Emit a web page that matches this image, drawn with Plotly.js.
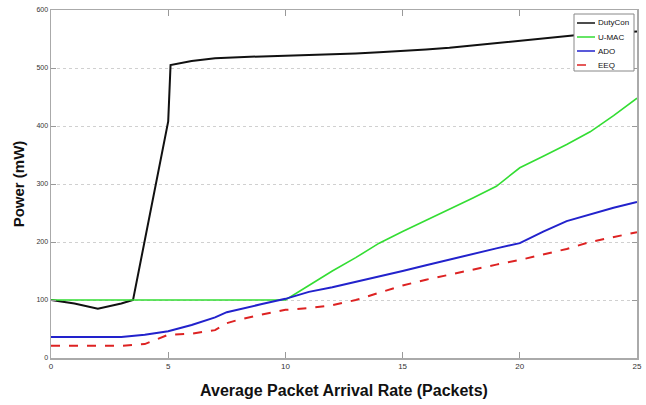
<!DOCTYPE html>
<html>
<head>
<meta charset="utf-8">
<script src="https://cdn.plot.ly/plotly-3.0.1.min.js"></script>
<style>html,body{margin:0;padding:0;background:#fff;}#chart{width:646px;height:405px;}</style>
</head>
<body>
<div id="chart"></div>
<script>
// Data
const dutyConX = [0, 1, 2, 3, 3.5, 5, 5.1, 6, 7, 8, 9, 10, 11, 12, 13, 14, 15, 16, 17, 18, 19, 20, 21, 22, 23, 24, 25];
const dutyConY = [100, 94, 85, 94, 100, 408, 505, 512, 517, 519, 520, 521, 522, 524, 525, 527, 529, 532, 535, 539, 544, 548, 552, 556, 559, 561, 563];

const uMacX = [0, 1, 2, 3, 4, 5, 6, 7, 8, 9, 10, 11, 12, 13, 14, 15, 16, 17, 18, 19, 20, 21, 22, 23, 24, 25];
const uMacY = [100, 100, 100, 100, 100, 100, 100, 100, 100, 100, 100, 125, 150, 173, 198, 218, 237, 256, 276, 296, 328, 348, 368, 390, 418, 448];

const adoX = [0, 1, 2, 3, 4, 5, 6, 7, 7.5, 8, 9, 10, 11, 12, 13, 14, 15, 16, 17, 18, 19, 20, 21, 22, 23, 24, 25];
const adoY = [36, 36, 36, 36, 40, 46, 57, 70, 79, 84, 93, 102, 114, 122, 131, 140, 150, 160, 170, 180, 189, 198, 218, 236, 248, 259, 269];

const eeqX = [0, 1, 2, 3, 4, 4.8, 5, 6, 7, 7.5, 8, 9, 10, 11, 12, 13, 14, 15, 16, 17, 18, 19, 20, 21, 22, 23, 24, 25];
const eeqY = [21, 21, 21, 21, 24, 36, 40, 42, 48, 60, 66, 75, 83, 86, 91, 100, 112, 125, 135, 144, 152, 161, 169, 178, 188, 200, 208, 217];

const seriesNames = ["DutyCon", "U-MAC", "ADO", "EEQ"];
const xTickVals = [0, 5, 10, 15, 20, 25];
const xTickText = ["0", "5", "10", "15", "20", "25"];
const yTickVals = [0, 100, 200, 300, 400, 500, 600];
const yTickText = ["0", "100", "200", "300", "400", "500", "600"];

const lineStyles = [
  {color: "#111111", width: 2},
  {color: "#33dd33", width: 1.6},
  {color: "#2222cc", width: 2},
  {color: "#dd2222", width: 2, dash: "dash"}
];
const xs = [dutyConX, uMacX, adoX, eeqX];
const ys = [dutyConY, uMacY, adoY, eeqY];

const traces = seriesNames.map((n, i) => ({
  x: xs[i], y: ys[i], name: n, mode: "lines", line: lineStyles[i], showlegend: false
}));

// compact custom legend (plot area: 51..637 px wide, 10..358 px tall)
const W = 646, H = 405, mL = 51, mR = 9, mT = 10, mB = 47;
const pw = W - mL - mR, ph = H - mT - mB;
const px = v => (v - mL) / pw;
const py = v => (H - mB - v) / ph;
const shapes = [{
  type: "rect", xref: "paper", yref: "paper",
  x0: px(574), x1: px(634), y0: py(71), y1: py(14),
  fillcolor: "#ffffff", line: {color: "#888", width: 1}, layer: "above"
}];
const annotations = [];
const rowY = [23, 37, 51, 65];
seriesNames.forEach((n, i) => {
  shapes.push({
    type: "line", xref: "paper", yref: "paper",
    x0: px(577), x1: px(595), y0: py(rowY[i]), y1: py(rowY[i]),
    line: {color: lineStyles[i].color, width: 1.5, dash: lineStyles[i].dash ? "dash" : "solid"}, layer: "above"
  });
  annotations.push({
    xref: "paper", yref: "paper", x: px(596), y: py(rowY[i]),
    xanchor: "left", yanchor: "middle", showarrow: false,
    text: n, font: {size: 8, color: "#111", family: "Liberation Sans, Arial, sans-serif"}
  });
});

const layout = {
  width: W, height: H,
  margin: {l: mL, r: mR, t: mT, b: mB},
  paper_bgcolor: "#ffffff", plot_bgcolor: "#ffffff",
  font: {family: "Liberation Sans, Arial, sans-serif", color: "#111"},
  showlegend: false,
  shapes: shapes,
  annotations: annotations,
  xaxis: {
    range: [0, 25], tickvals: xTickVals, ticktext: xTickText,
    ticks: "inside", ticklen: 6, tickcolor: "#999", mirror: "ticks",
    showline: true, linecolor: "#aaa", linewidth: 1.5,
    showgrid: false, zeroline: false,
    tickfont: {size: 8, color: "#333"},
    title: {text: "<b>Average Packet Arrival Rate (Packets)</b>", font: {size: 16, color: "#111"}, standoff: 14}
  },
  yaxis: {
    range: [0, 600], tickvals: yTickVals, ticktext: yTickText,
    ticks: "inside", ticklen: 5, tickcolor: "#999", mirror: "ticks",
    showline: true, linecolor: "#aaa", linewidth: 1.5,
    showgrid: true, gridcolor: "#d0d0d0", griddash: "dot", gridwidth: 1,
    zeroline: false,
    tickfont: {size: 7, color: "#333"},
    title: {text: "<b>Power (mW)</b>", font: {size: 15, color: "#111"}, standoff: 8}
  }
};

Plotly.newPlot("chart", traces, layout, {displayModeBar: false, staticPlot: true});
</script>
</body>
</html>
